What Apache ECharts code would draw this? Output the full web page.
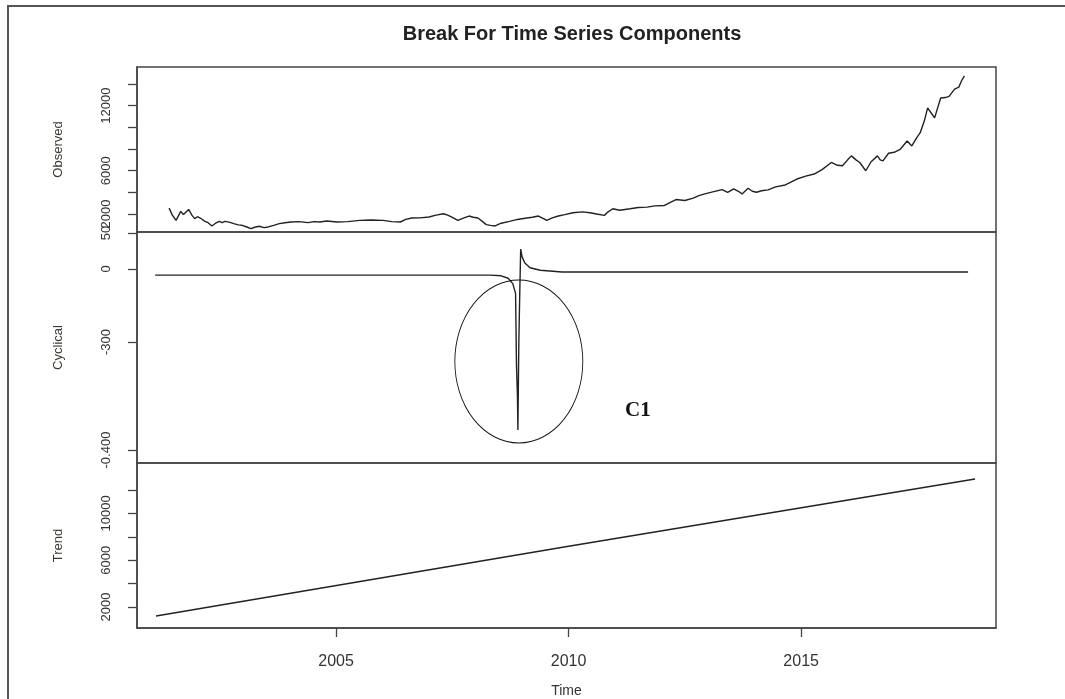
<!DOCTYPE html>
<html><head><meta charset="utf-8">
<script src="https://cdn.jsdelivr.net/npm/echarts@6/dist/echarts.min.js"></script>
<style>html,body{margin:0;padding:0;background:#fff}#c{width:1065px;height:699px}</style>
</head><body><div id="c"></div>
<script>
// ---- data ----
const obsYears = [2001.41,2001.48,2001.56,2001.66,2001.72,2001.75,2001.83,2001.90,2001.96,2002.02,2002.08,2002.18,2002.25,2002.33,2002.41,2002.49,2002.55,2002.61,2002.70,2002.80,2002.90,2002.98,2003.08,2003.17,2003.25,2003.35,2003.45,2003.54,2003.66,2003.78,2003.90,2004.03,2004.20,2004.40,2004.52,2004.65,2004.80,2005.02,2005.25,2005.51,2005.75,2006.01,2006.20,2006.38,2006.50,2006.63,2006.80,2007.00,2007.15,2007.31,2007.40,2007.49,2007.62,2007.75,2007.86,2007.95,2008.05,2008.15,2008.23,2008.32,2008.42,2008.55,2008.73,2008.90,2009.10,2009.22,2009.35,2009.45,2009.53,2009.65,2009.78,2009.92,2010.09,2010.30,2010.46,2010.60,2010.77,2010.85,2010.95,2011.10,2011.32,2011.50,2011.69,2011.85,2012.06,2012.20,2012.31,2012.50,2012.68,2012.80,2012.93,2013.10,2013.30,2013.42,2013.55,2013.65,2013.73,2013.86,2013.95,2014.04,2014.15,2014.29,2014.45,2014.66,2014.80,2014.91,2015.10,2015.28,2015.45,2015.65,2015.78,2015.89,2016.00,2016.08,2016.18,2016.26,2016.39,2016.50,2016.64,2016.70,2016.76,2016.88,2017.00,2017.13,2017.28,2017.38,2017.48,2017.56,2017.65,2017.72,2017.80,2017.87,2018.00,2018.10,2018.18,2018.30,2018.39,2018.45,2018.51];
const obsValues = [2547,1900,1418,2241,1950,2028,2425,1900,1570,1750,1631,1326,1200,899,1150,1326,1200,1326,1250,1113,1000,960,800,655,780,869,750,808,950,1113,1200,1265,1300,1205,1300,1265,1350,1265,1300,1418,1450,1418,1300,1265,1500,1631,1640,1723,1900,2028,1900,1723,1418,1650,1814,1700,1631,1300,1021,950,899,1150,1326,1500,1631,1700,1814,1600,1418,1650,1814,1950,2120,2200,2120,2000,1875,2200,2486,2350,2486,2600,2638,2750,2791,3100,3340,3250,3462,3700,3858,4050,4255,4000,4316,4100,3858,4377,4100,4011,4150,4225,4500,4683,5000,5232,5500,5689,6100,6757,6500,6452,7000,7367,7000,6757,5994,6800,7367,7000,6909,7611,7700,7977,8740,8283,9000,9503,10600,11791,11300,10876,12707,12750,12859,13530,13713,14300,14751];

const cycYears = [2001.11,2008.31,2008.55,2008.70,2008.80,2008.86,2008.88,2008.90,2008.91,2008.93,2008.95,2008.97,2009.00,2009.06,2009.17,2009.39,2009.86,2018.59];
const cycValues = [-25,-25,-28,-38,-60,-100,-400,-520,-662,-300,-100,82,50,25,5,-5,-12,-12];

const trendYears = [2001.13, 2010.00, 2018.74];
const trendValues = [1234, 7191, 12936];

const xTicks = [2005, 2010, 2015];
const obsTicks = [2000,4000,6000,8000,10000,12000,14000];
const obsLabels = [2000,6000,12000];
const cycTicks = [148, 0, -300, -744];
const cycLabelText = {'148':'50','0':'0','-300':'-300','-744':'-0.400'};
const trendTicks = [2000,4000,6000,8000,10000,12000];
const trendLabels = [2000,6000,10000];

const circleCenter = [2008.93, -380];
const circleRadius = [1.376, 335];
const noteText = 'C1';
const notePos = [2011.49, -580];

// ---- chart ----
const zip = (a,b)=>a.map((v,i)=>[v,b[i]]);
const axisColor = '#444';
const labelColor = '#333';
const X_MIN = 2000.72, X_MAX = 2019.19;
const G = {left:137, width:859, show:true, borderColor:'#444', borderWidth:1.5, backgroundColor:'transparent'};

function xAx(i, show){
  const o = {type:'value', gridIndex:i, min:X_MIN, max:X_MAX,
    splitLine:{show:false}, axisLine:{show:false},
    axisTick:{show:false}, axisLabel:{show:false}};
  if(show){
    o.axisLine = {show:true, lineStyle:{color:axisColor, width:1.5}};
    o.axisTick = {show:true, length:9, customValues:xTicks, lineStyle:{color:axisColor, width:1.3}};
    o.axisLabel = {show:true, customValues:xTicks, fontSize:16, color:labelColor, margin:26,
      fontFamily:'Liberation Sans, Arial', formatter:v=>String(Math.round(v))};
    o.name = 'Time'; o.nameLocation = 'middle'; o.nameGap = 56;
    o.nameTextStyle = {fontSize:14, color:labelColor, fontFamily:'Liberation Sans, Arial'};
  }
  return o;
}
function yAx(i, min, max, ticks, labels, name, fmt){
  return {type:'value', gridIndex:i, min:min, max:max,
    splitLine:{show:false},
    axisLine:{show:true, lineStyle:{color:axisColor, width:1.5}},
    axisTick:{show:true, length:9, customValues:ticks, lineStyle:{color:axisColor, width:1.3}},
    axisLabel:{show:true, customValues:labels, rotate:90, fontSize:13, color:labelColor, margin:24,
      fontFamily:'Liberation Sans, Arial', formatter: fmt || (v=>String(Math.round(v)))},
    name:name, nameLocation:'middle', nameRotate:90, nameGap:72,
    nameTextStyle:{fontSize:13, color:'#3a3a30', fontFamily:'Liberation Sans, Arial'}};
}

const chart = echarts.init(document.getElementById('c'), null, {renderer:'canvas'});
chart.setOption({
  animation:false,
  backgroundColor:'#fff',
  title:{text:'Break For Time Series Components', left:567, top:19, textAlign:'center',
    textStyle:{fontSize:20, fontWeight:'bold', color:'#222', fontFamily:'Liberation Sans, Arial'}},
  grid:[
    Object.assign({top:67, height:165}, G),
    Object.assign({top:232, height:231}, G),
    Object.assign({top:463, height:165}, G)
  ],
  xAxis:[xAx(0,false), xAx(1,false), xAx(2,true)],
  yAxis:[
    yAx(0, 341, 15569, obsTicks, obsLabels, 'Observed'),
    yAx(1, -797.3, 152.1, cycTicks, cycTicks, 'Cyclical', v=>cycLabelText[String(Math.round(v))] ?? ''),
    yAx(2, 213, 14298, trendTicks, trendLabels, 'Trend')
  ],
  graphic:[{type:'polyline', shape:{points:[[8,699],[8,6],[1065,6]]},
    style:{stroke:'#555', lineWidth:2, fill:null}, silent:true}],
  series:[
    {type:'line', xAxisIndex:0, yAxisIndex:0, data:zip(obsYears, obsValues), showSymbol:false,
      lineStyle:{color:'#222', width:1.4}},
    {type:'line', xAxisIndex:1, yAxisIndex:1, data:zip(cycYears, cycValues), showSymbol:false,
      lineStyle:{color:'#222', width:1.4}},
    {type:'line', xAxisIndex:2, yAxisIndex:2, data:zip(trendYears, trendValues), showSymbol:false,
      lineStyle:{color:'#222', width:1.4}},
    {type:'custom', xAxisIndex:1, yAxisIndex:1, silent:true, z:5, clip:false,
      data:[[circleCenter[0], circleCenter[1], 0], [notePos[0], notePos[1], 1]],
      renderItem:(p, api)=>{
        const c = api.coord([api.value(0), api.value(1)]);
        if(api.value(2) === 0){
          const s = api.size([circleRadius[0], circleRadius[1]]);
          return {type:'circle', shape:{cx:c[0], cy:c[1], r:s[1]}, scaleX:s[0]/s[1], scaleY:1,
            originX:c[0], originY:c[1], style:{fill:'none', stroke:'#111', lineWidth:1.1}};
        }
        return {type:'text', x:c[0], y:c[1], style:{text:noteText, fill:'#111',
          font:'bold 21px "Liberation Serif", "Times New Roman", serif', align:'center', verticalAlign:'middle'}};
      }}
  ]
});
</script>
</body></html>
